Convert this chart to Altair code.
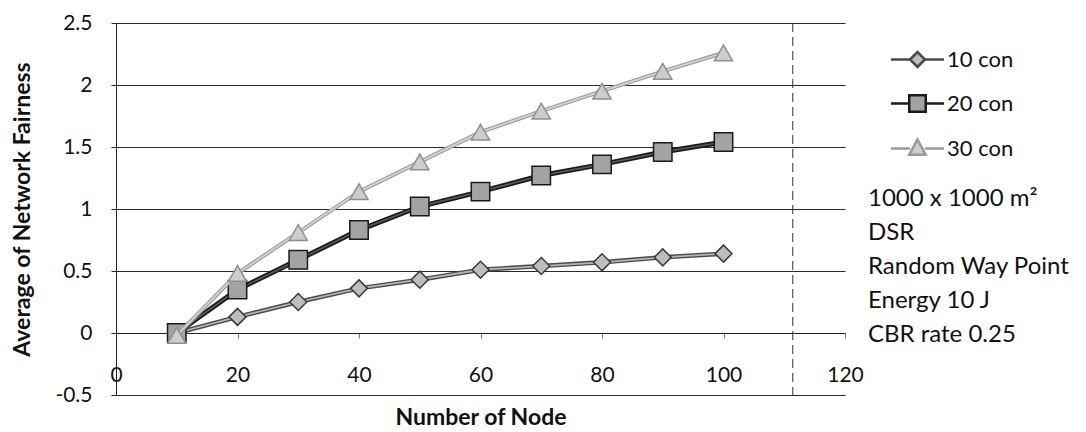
import altair as alt
import pandas as pd

# ---------------- data ----------------
nodes = [10, 20, 30, 40, 50, 60, 70, 80, 90, 100]
con10 = [0.0, 0.13, 0.25, 0.36, 0.43, 0.51, 0.54, 0.57, 0.61, 0.64]
con20 = [0.0, 0.35, 0.59, 0.83, 1.02, 1.14, 1.27, 1.36, 1.46, 1.54]
con30 = [-0.02, 0.48, 0.81, 1.14, 1.38, 1.62, 1.79, 1.95, 2.11, 2.26]
series_names = ["10 con", "20 con", "30 con"]
x_ticks = [0, 20, 40, 60, 80, 100, 120]
y_ticks = [-0.5, 0, 0.5, 1, 1.5, 2, 2.5]
notes = ["1000 x 1000 m\u00b2", "DSR", "Random Way Point", "Energy 10 J", "CBR rate 0.25"]
fold_x = [111.4]

df = pd.DataFrame({
    "nodes": nodes * 3,
    "value": con10 + con20 + con30,
    "series": [s for s in series_names for _ in nodes],
})
fold_df = pd.DataFrame({"fx": fold_x})

FONT = "Lato"

# ---------------- styles ----------------
styles = {
    "10 con": dict(outer="#4a4a4a", ow=4.5, inner="#b5b5b5", iw=1.8,
                   shape="diamond", size=290, fill="#bdbdbd", stroke="#3a3a3a"),
    "20 con": dict(outer="#1a1a1a", ow=5.0, inner="#5a5a5a", iw=1.6,
                   shape="square", size=340, fill="#a3a3a3", stroke="#1a1a1a"),
    "30 con": dict(outer="#9a9a9a", ow=4.0, inner="#d4d4d4", iw=1.8,
                   shape="triangle-up", size=330, fill="#cdcdcd", stroke="#8f8f8f"),
}
legend_paths = [
    "M-1.77,0L-0.5,0M-0.5,0L0,-0.5L0.5,0L0,0.5ZM0.5,0L1.77,0",
    "M-1.77,0L-0.55,0M-0.55,-0.55L0.55,-0.55L0.55,0.55L-0.55,0.55ZM0.55,0L1.77,0",
    "M-1.77,0L-0.5,0M0,-0.6L0.55,0.42L-0.55,0.42ZM0.5,0L1.77,0",
]
legend_strokes = ["#4a4a4a", "#1a1a1a", "#9a9a9a"]
legend_fills = ["#bdbdbd", "#a3a3a3", "#cdcdcd"]

# ---------------- shared encodings ----------------
X = alt.X(
    "nodes:Q",
    scale=alt.Scale(domain=[0, 120], nice=False, zero=False),
    axis=alt.Axis(
        values=x_ticks, offset=-62, grid=False, labelFlush=False,
        labelExpr="'' + datum.value",
        domainColor="#222222", tickColor="#777777", tickSize=5,
        labelFont=FONT, labelFontSize=21, labelColor="#111111", labelPadding=26,
        title="Number of Node", titleFont=FONT, titleFontSize=23,
        titleFontWeight="bold", titleColor="#111111", titlePadding=21,
    ),
)
Y = alt.Y(
    "value:Q",
    scale=alt.Scale(domain=[-0.5, 2.5], nice=False, zero=False),
    axis=alt.Axis(
        values=y_ticks, grid=True, gridColor="#2a2a2a", gridWidth=1,
        labelExpr="'' + datum.value",
        domainColor="#222222", tickColor="#222222", tickSize=5,
        labelFont=FONT, labelFontSize=21, labelColor="#111111", labelPadding=19,
        title="Average of Network Fairness", titleFont=FONT, titleFontSize=23,
        titleFontWeight="bold", titleColor="#111111", titlePadding=20,
    ),
)

layers = []

fold = alt.Chart(fold_df).mark_rule(
    color="#333333", strokeWidth=1, strokeDash=[9, 5]
).encode(x=alt.X("fx:Q", scale=alt.Scale(domain=[0, 120], nice=False, zero=False)))
layers.append(fold)

for name in series_names:
    st = styles[name]
    base = alt.Chart(df).transform_filter(alt.datum.series == name)
    layers.append(base.mark_line(color=st["outer"], strokeWidth=st["ow"]).encode(x=X, y=Y))
    layers.append(base.mark_line(color=st["inner"], strokeWidth=st["iw"]).encode(x=X, y=Y))
    layers.append(base.mark_point(
        shape=st["shape"], size=st["size"], filled=True, fill=st["fill"],
        stroke=st["stroke"], strokeWidth=1.5, opacity=1,
    ).encode(x=X, y=Y))

leg = alt.Legend(
    orient="none", legendX=752, legendY=20, padding=0,
    title=notes, titleOrient="bottom", titleAnchor="start", titleAlign="left",
    titleFont=FONT, titleFontSize=24, titleFontWeight="normal", titleColor="#111111",
    titleLineHeight=34, titlePadding=27, titleLimit=400,
    symbolSize=900, symbolOffset=33, symbolStrokeWidth=2.5, symbolOpacity=1,
    labelFont=FONT, labelFontSize=22, labelColor="#111111", labelOffset=13,
    labelLimit=300, rowPadding=15,
)
legend_layer = alt.Chart(df).mark_point(filled=True, strokeWidth=2.5, opacity=0).encode(
    x=X, y=Y,
    shape=alt.Shape("series:N", scale=alt.Scale(domain=series_names, range=legend_paths), legend=leg),
    stroke=alt.Stroke("series:N", scale=alt.Scale(domain=series_names, range=legend_strokes), legend=leg),
    fill=alt.Fill("series:N", scale=alt.Scale(domain=series_names, range=legend_fills), legend=leg),
)
layers.append(legend_layer)

chart = alt.layer(*layers).properties(
    width=729, height=372,
    autosize=alt.AutoSizeParams(type="none"),
    padding={"left": 108, "top": 15, "right": 225, "bottom": 34},
    background="white",
).configure_view(stroke=None)

chart.save("out.html", embed_options={"renderer": "svg", "actions": False})
